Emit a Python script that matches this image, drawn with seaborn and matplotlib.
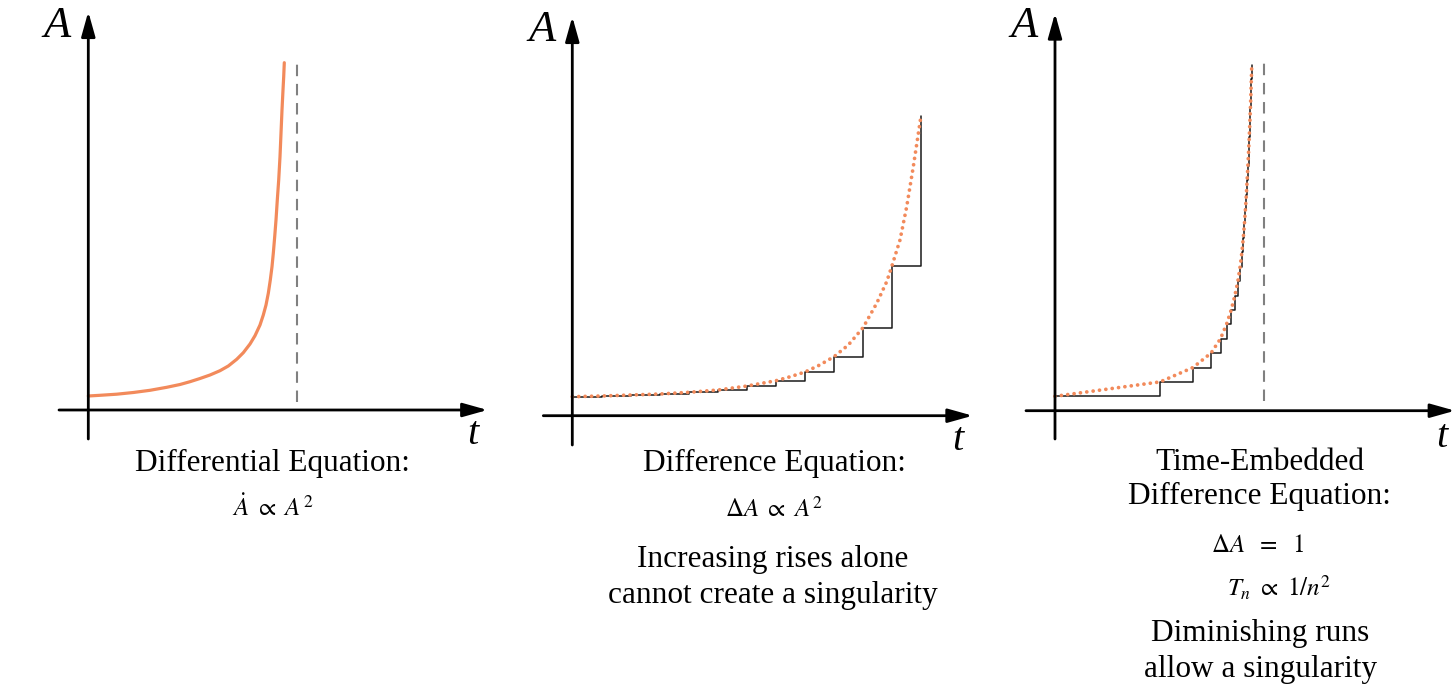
import matplotlib
matplotlib.use("Agg")
import matplotlib.pyplot as plt
import numpy as np
import pandas as pd
import seaborn as sns

sns.set_theme(style="white")
plt.rcParams["font.family"] = ["Liberation Serif", "DejaVu Serif"]
plt.rcParams["mathtext.fontset"] = "stix"
plt.rcParams["text.color"] = "black"

W, H = 1456, 694
ORANGE = "#F28A5B"
AXIS_COLOR = "black"

# ---------------- data ----------------
# Panel 1: differential equation, continuous blow-up (units: 1 = 100 px)
diff_t = [0.0, 0.117, 0.284, 0.45, 0.617, 0.784, 0.917, 1.017, 1.117, 1.217,
          1.317, 1.40, 1.484, 1.55, 1.617, 1.667, 1.717, 1.75, 1.777, 1.80,
          1.82, 1.837, 1.85, 1.864, 1.877, 1.89, 1.904, 1.917, 1.927, 1.937,
          1.947, 1.954, 1.960]
diff_A = [0.14, 0.147, 0.158, 0.175, 0.197, 0.227, 0.255, 0.283, 0.315, 0.35,
          0.393, 0.44, 0.507, 0.573, 0.66, 0.743, 0.85, 0.95, 1.05, 1.167,
          1.30, 1.433, 1.567, 1.733, 1.90, 2.10, 2.30, 2.533, 2.767, 3.00,
          3.20, 3.333, 3.473]
diff_singularity = 2.084
asym_lo, asym_hi = 0.083, 3.47

# Panel 2: difference equation, step values and smooth dotted guide
step_t = [0.0, 0.297, 0.587, 0.877, 1.167, 1.457, 1.747, 2.037, 2.327, 2.617,
          2.907, 3.197, 3.487]
step_A = [0.19, 0.197, 0.207, 0.217, 0.234, 0.257, 0.297, 0.35, 0.437, 0.59,
          0.88, 1.50, 2.997]
guide_t = [0.0, 0.297, 0.587, 0.877, 1.167, 1.457, 1.747, 2.037, 2.18, 2.327,
           2.47, 2.617, 2.76, 2.907, 3.044, 3.144, 3.197, 3.277, 3.344, 3.41,
           3.487]
guide_A = [0.19, 0.197, 0.207, 0.217, 0.234, 0.257, 0.297, 0.35, 0.39, 0.437,
           0.505, 0.59, 0.707, 0.88, 1.124, 1.34, 1.50, 1.757, 2.09, 2.49,
           2.997]

# Panel 3: time-embedded difference equation (ΔA = 1, run lengths shrink)
run_levels = [1, 2, 3, 4, 5, 6, 7, 8, 9, 10, 11, 12, 13, 14, 15, 16, 17, 18,
              19, 20, 21, 22, 23, 24]
run_lengths = [1.05, 0.33, 0.18, 0.095, 0.06, 0.047, 0.037, 0.03, 0.022,
               0.018, 0.014, 0.0115, 0.010, 0.009, 0.008, 0.0075, 0.007,
               0.0065, 0.006, 0.0055, 0.005, 0.0045, 0.004]
te_singularity = 2.093
te_asym_lo, te_asym_hi = 0.64, 24.2

# ---------------- figure ----------------
fig = plt.figure(figsize=(W / 100, H / 100), dpi=100)


def make_panel(origin, xspan, yspan, sx, sy, pad=14):
    ox, oy = origin
    x0, x1 = xspan
    ytop, ybot = yspan
    bx0, bx1 = x0 - pad, x1 + pad
    byt, byb = ytop - pad, ybot + pad
    ax = fig.add_axes([bx0 / W, 1 - byb / H, (bx1 - bx0) / W, (byb - byt) / H])
    ax.set_xlim((bx0 - ox) / sx, (bx1 - ox) / sx)
    ax.set_ylim((oy - byb) / sy, (oy - byt) / sy)
    ax.axis("off")
    arrow = dict(arrowstyle="-|>,head_length=0.75,head_width=0.21",
                 mutation_scale=20, lw=2.0, color=AXIS_COLOR,
                 shrinkA=0, shrinkB=0)
    ax.annotate("", xy=((x1 - ox) / sx, 0), xytext=((x0 - ox) / sx, 0),
                arrowprops=arrow, annotation_clip=False)
    ax.annotate("", xy=(0, (oy - ytop) / sy), xytext=(0, (oy - ybot) / sy),
                arrowprops=arrow, annotation_clip=False)
    return ax


def ftext(x, y, s, **kw):
    fig.text(x / W, 1 - y / H, s, ha="center", va="center", color="black", **kw)


DOTS = dict(color=ORANGE, lw=2.7, linestyle=(0, (0.01, 1.7)),
            dash_capstyle="round", estimator=None, sort=False)
DASH = dict(color="#808080", lw=1.5, linestyle=(0, (5.5, 3.7)),
            estimator=None, sort=False)
STEP = dict(color="#1a1a1a", lw=1.1, drawstyle="steps-post",
            estimator=None, sort=False)

# Panel 1
ax1 = make_panel((88.3, 410.0), (59, 487.5), (11.7, 439), 100, 100)
sns.lineplot(x=diff_t, y=diff_A, ax=ax1, color=ORANGE, lw=2.3,
             estimator=None, sort=False)
sns.lineplot(x=[diff_singularity, diff_singularity], y=[asym_lo, asym_hi],
             ax=ax1, **DASH)

# Panel 2
ax2 = make_panel((572.3, 415.7), (543.3, 972.7), (16.7, 445), 100, 100)
sns.lineplot(x=step_t, y=step_A, ax=ax2, **STEP)
sns.lineplot(x=guide_t, y=guide_A, ax=ax2, **DOTS)

# Panel 3
te_t = np.concatenate([[0.0], np.cumsum(run_lengths)])
ax3 = make_panel((1055.0, 410.7), (1026, 1455), (13.3, 439), 100, 14.4)
sns.lineplot(x=te_t, y=run_levels, ax=ax3, **STEP)
sns.lineplot(x=te_t, y=run_levels, ax=ax3, **DOTS)
sns.lineplot(x=[te_singularity, te_singularity], y=[te_asym_lo, te_asym_hi],
             ax=ax3, **DASH)

for ax in (ax1, ax2, ax3):
    if ax.get_legend() is not None:
        ax.get_legend().remove()

# ---------------- text ----------------
lab = dict(style="italic")
ftext(57, 26, "A", fontsize=32, **lab)
ftext(473, 434, "t", fontsize=29, **lab)
ftext(542, 30, "A", fontsize=32, **lab)
ftext(958, 441, "t", fontsize=29, **lab)
ftext(1024, 26, "A", fontsize=32, **lab)
ftext(1442, 437, "t", fontsize=29, **lab)

body = 22.5
mfs = 18
ftext(272, 463, "Differential Equation:", fontsize=body)
ftext(273, 508, r"$\dot{A}\ \propto\ A^{2}$", fontsize=mfs)

ftext(774, 463, "Difference Equation:", fontsize=body)
ftext(774, 509, r"$\Delta A\ \propto\ A^{2}$", fontsize=mfs)
ftext(773, 559, "Increasing rises alone", fontsize=body)
ftext(773, 596, "cannot create a singularity", fontsize=body)

ftext(1260, 463, "Time-Embedded", fontsize=body)
ftext(1259, 496, "Difference Equation:", fontsize=body)
ftext(1258, 546, r"$\Delta A\ \ =\ \ 1$", fontsize=mfs)
ftext(1279, 588, r"$T_{n}\ \propto\ 1/n^{2}$", fontsize=mfs)
ftext(1260, 634, "Diminishing runs", fontsize=body)
ftext(1260, 670, "allow a singularity", fontsize=body)

fig.savefig("out.png", dpi=100, facecolor="white")
